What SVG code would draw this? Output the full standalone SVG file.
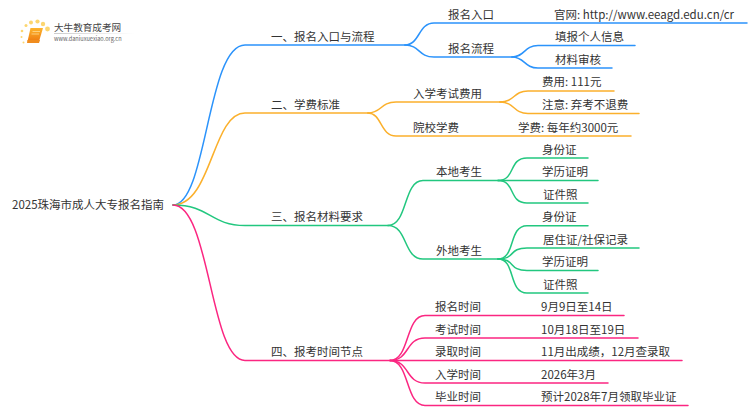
<svg xmlns="http://www.w3.org/2000/svg" width="750" height="410" viewBox="0 0 750 410">
<style>
text{font-family:"Noto Sans CJK SC","Noto Sans",sans-serif;font-size:11.5px;fill:#333}
.c path{fill:none;stroke-width:1.5;stroke-linecap:round}
.b path{stroke:#2b93fb}.o path{stroke:#fbb02c}.g path{stroke:#22c77f}.p path{stroke:#fb2681}
</style>
<defs>
<linearGradient id="bk" x1="0" y1="0" x2="0" y2="1"><stop offset="0" stop-color="#fdb52d"/><stop offset="1" stop-color="#ee7a10"/></linearGradient>
<linearGradient id="fd" x1="0" y1="0" x2="1" y2="0"><stop offset="0" stop-color="#ccc"/><stop offset="1" stop-color="#fff"/></linearGradient>
</defs>
<g id="logo">
<g fill="#fcd670"><circle cx="22" cy="31" r="1.300"/><circle cx="21.500" cy="37" r="1"/><circle cx="23.500" cy="42.500" r="1"/><circle cx="26" cy="25.500" r="1.500"/><circle cx="31" cy="22.500" r="2"/><circle cx="37.500" cy="21.500" r="2.100"/><circle cx="43" cy="24" r="2.200"/><circle cx="47.500" cy="29" r="2.400"/></g>
<path d="M30.500 28H43L39 41.500H27.500Z" fill="url(#bk)"/>
<path d="M27.500 40L27 43H39L40 40Z" fill="#f08c1e"/>
<path d="M32.500 31.500H40M31.500 34H39" stroke="#ffe3a0" stroke-width=".7"/>
<rect x="54" y="33" width="80" height="1" fill="url(#fd)"/>
<text x="54" y="31" style="font-size:9.600px;fill:#444">大牛教育成考网</text>
<text x="54" y="41" style="font-size:5.600px;fill:#666">www.daniuxuexiao.org.cn</text>
</g>
<g id="connectors" class="c">
<g class="b">
<path d="M173 205C207 205 207 45 245 45H405"/>
<path d="M405 45C420 45 418 23 434 23H747"/>
<path d="M405 45C420 45 418 57 434 57H512"/>
<path d="M512 57C525 57 524 45.500 538 45.500H635"/>
<path d="M512 57C525 57 524 68 538 68H612"/>
</g>
<g class="o">
<path d="M173 205C212 205 212 113 245 113H368"/>
<path d="M368 113C382 113 380 102 396 102H502"/>
<path d="M368 113C382 113 380 136 396 136H631"/>
<path d="M500 102C515 102 513 91 528 91H614"/>
<path d="M500 102C515 102 513 113.500 528 113.500H639"/>
</g>
<g class="g">
<path d="M173 205C210 205 210 225.500 245 225.500H388"/>
<path d="M388 225.500C408 225.500 403 180.500 423 180.500H498"/>
<path d="M388 225.500C408 225.500 403 259 423 259H498"/>
<path d="M498 180.500C516 180.500 508 158 527 158H588"/>
<path d="M498 180.500H598"/>
<path d="M498 180.500C516 180.500 508 203 527 203H588"/>
<path d="M498 259C516 259 508 225.700 527 225.700H588"/>
<path d="M498 259C516 259 508 248 527 248H639"/>
<path d="M498 259C516 259 508 270.500 527 270.500H598"/>
<path d="M498 259C516 259 508 293 527 293H588"/>
</g>
<g class="p">
<path d="M173 205C210 205 210 360.500 245 360.500H390"/>
<path d="M390 360.500C410 360.500 405 315.500 425 315.500H624"/>
<path d="M390 360.500C410 360.500 405 338 425 338H638"/>
<path d="M390 360.500H682"/>
<path d="M390 360.500C410 360.500 405 383 425 383H608"/>
<path d="M390 360.500C410 360.500 405 405.500 425 405.500H688"/>
</g>
</g>
<g id="root"><text x="12" y="209">2025珠海市成人大专报名指南</text></g>
<g id="n1"><text x="271" y="41">一、报名入口与流程</text></g>
<g id="n1-1"><text x="448" y="19">报名入口</text></g>
<g id="n1-1-1"><text x="554" y="19">官网: http://www.eeagd.edu.cn/cr</text></g>
<g id="n1-2"><text x="448" y="53">报名流程</text></g>
<g id="n1-2-1"><text x="555" y="41">填报个人信息</text></g>
<g id="n1-2-2"><text x="555" y="64">材料审核</text></g>
<g id="n2"><text x="271" y="109">二、学费标准</text></g>
<g id="n2-1"><text x="413" y="98">入学考试费用</text></g>
<g id="n2-1-1"><text x="542" y="86">费用: 111元</text></g>
<g id="n2-1-2"><text x="542" y="109">注意: 弃考不退费</text></g>
<g id="n2-2"><text x="413" y="132">院校学费</text></g>
<g id="n2-2-1"><text x="518" y="132">学费: 每年约3000元</text></g>
<g id="n3"><text x="271" y="221">三、报名材料要求</text></g>
<g id="n3-1"><text x="436" y="176">本地考生</text></g>
<g id="n3-1-1"><text x="542" y="154">身份证</text></g>
<g id="n3-1-2"><text x="542" y="176">学历证明</text></g>
<g id="n3-1-3"><text x="543" y="199">证件照</text></g>
<g id="n3-2"><text x="436" y="255">外地考生</text></g>
<g id="n3-2-1"><text x="542" y="221">身份证</text></g>
<g id="n3-2-2"><text x="543" y="244">居住证/社保记录</text></g>
<g id="n3-2-3"><text x="542" y="266">学历证明</text></g>
<g id="n3-2-4"><text x="543" y="289">证件照</text></g>
<g id="n4"><text x="271" y="356">四、报考时间节点</text></g>
<g id="n4-1"><text x="435" y="311">报名时间</text><text x="541" y="311">9月9日至14日</text></g>
<g id="n4-2"><text x="435" y="334">考试时间</text><text x="541" y="334">10月18日至19日</text></g>
<g id="n4-3"><text x="435" y="356">录取时间</text><text x="541" y="356">11月出成绩，12月查录取</text></g>
<g id="n4-4"><text x="435" y="379">入学时间</text><text x="541" y="379">2026年3月</text></g>
<g id="n4-5"><text x="435" y="401">毕业时间</text><text x="541" y="401">预计2028年7月领取毕业证</text></g>
</svg>
